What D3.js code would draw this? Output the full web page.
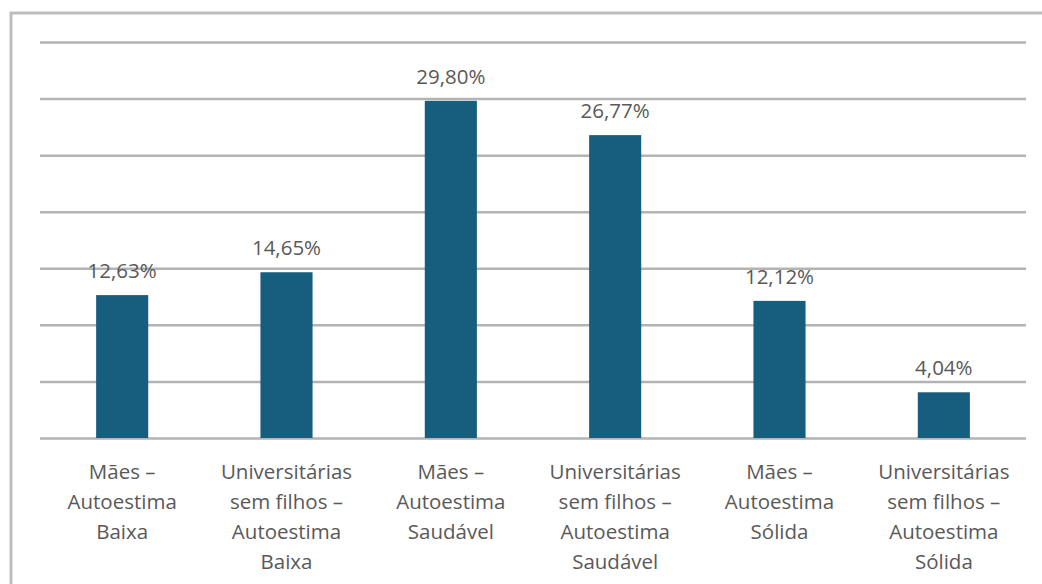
<!DOCTYPE html>
<html>
<head>
<meta charset="utf-8">
<script src="https://cdn.jsdelivr.net/npm/d3@7"></script>
<style>
    body { margin: 0; background: #fff; }
    svg { display: block; font-family: "Open Sans", sans-serif; }
</style>
</head>
<body>
<svg id="chart" width="1042" height="584"></svg>
<script>
// Categories (each label split into its lines) and values in percent
var categories = [
    ["Mães –", "Autoestima", "Baixa"],
    ["Universitárias", "sem filhos –", "Autoestima", "Baixa"],
    ["Mães –", "Autoestima", "Saudável"],
    ["Universitárias", "sem filhos –", "Autoestima", "Saudável"],
    ["Mães –", "Autoestima", "Sólida"],
    ["Universitárias", "sem filhos –", "Autoestima", "Sólida"]
];
var values = [12.63, 14.65, 29.80, 26.77, 12.12, 4.04];
var gridValues = [0, 5, 10, 15, 20, 25, 30, 35];

var padding = { top: 42, right: 16, bottom: 146, left: 40 };
var svgWidth = 1042;
var svgHeight = 584;
var chartWidth = svgWidth - padding.left - padding.right;
var chartHeight = svgHeight - padding.top - padding.bottom;

var svg = d3.select("#chart");

// Outer frame (top and left edges visible in the picture)
svg.append("path")
    .attr("d", "M11,586 V13 H1044")
    .attr("fill", "none")
    .attr("stroke", "#bdbdbd")
    .attr("stroke-width", 3);

var chart = svg.append("g")
    .attr("transform", `translate(${padding.left}, ${padding.top})`);

var xScale = d3.scaleBand()
    .domain(d3.range(values.length))
    .range([0, chartWidth])
    .paddingInner(0.683)
    .paddingOuter(0.3415);

var yScale = d3.scaleLinear()
    .domain([0, 35])
    .range([chartHeight, 0]);

// Horizontal gridlines
chart.append("g")
    .attr("class", "grid")
    .call(d3.axisRight(yScale)
        .tickValues(gridValues)
        .tickSize(chartWidth)
        .tickFormat("")
    )
    .call(g => g.select(".domain").remove())
    .call(g => g.selectAll("line")
        .attr("stroke", "#b3b3b3")
        .attr("stroke-width", 2.5));

// Bars
chart.selectAll(".bar")
    .data(values)
    .enter()
    .append("rect")
        .attr("class", "bar")
        .attr("x", (d, i) => xScale(i))
        .attr("y", d => yScale(d))
        .attr("width", xScale.bandwidth())
        .attr("height", d => chartHeight - yScale(d))
        .attr("fill", "#175d7e");

// Value labels
chart.selectAll(".value")
    .data(values)
    .enter()
    .append("text")
        .attr("class", "value")
        .attr("x", (d, i) => xScale(i) + xScale.bandwidth() / 2)
        .attr("y", d => yScale(d) - 17)
        .attr("text-anchor", "middle")
        .attr("fill", "#595959")
        .style("font-size", "20.5px")
        .text(d => d.toFixed(2).replace(".", ",") + "%");

// Category labels
var labels = chart.selectAll(".cat")
    .data(categories)
    .enter()
    .append("text")
        .attr("class", "cat")
        .attr("text-anchor", "middle")
        .attr("fill", "#595959")
        .style("font-size", "20.5px")
        .attr("transform", (d, i) => `translate(${xScale(i) + xScale.bandwidth() / 2}, ${chartHeight + 41})`);

labels.selectAll("tspan")
    .data(d => d)
    .enter()
    .append("tspan")
        .attr("x", 0)
        .attr("y", (d, i) => i * 30)
        .text(d => d);
</script>
</body>
</html>
